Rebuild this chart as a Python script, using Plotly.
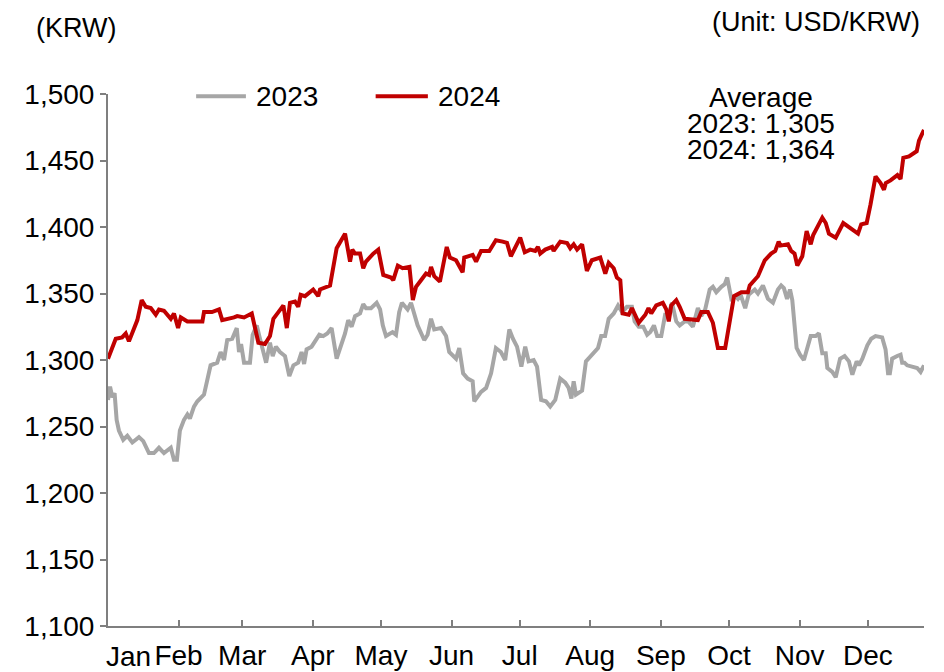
import plotly.graph_objects as go

# ---- data (day of year index, KRW per USD) ----
DAYS_2023 = [0, 0.9, 1.9, 2.9, 3.8, 4.8, 6.7, 8.5, 10.7, 13.6, 15.5, 18, 20.2, 22.4, 24.6, 27.6, 29, 30.3,
             31.6, 33.4, 34.9, 36, 37.8, 39.3, 42.2, 43.6, 45.1, 48, 49.5, 51, 52.4, 54.6, 56.6, 57.6, 58.5,
             59.8, 62.4, 63.6, 65.4, 66.5, 69.5, 71.2, 72.4, 73.8, 75.6, 77.8, 79.7, 81.5, 83.6, 85.1, 86.2,
             87.3, 89.5, 92.9, 94.6, 96.4, 98.3, 100.5, 102, 104.2, 105.6, 107.1, 108.6, 110.8, 112.2, 113.4,
             115.6, 118.1, 119.6, 120.8, 122.2, 125.1, 126.6, 128, 129.2, 131.7, 133.2, 134.6, 136.1, 139,
             140.5, 142, 143.4, 146.4, 148.6, 150, 153, 154.4, 156.1, 158.1, 160.3, 161, 162.5, 164, 166.2,
             168.4, 170.5, 172.7, 174.6, 176.4, 178, 179.8, 181.7, 183.4, 184.9, 187.1, 188.6, 190.4, 192.5,
             194.4, 196.6, 198.8, 201, 202.5, 203.7, 204.7, 205.7, 208.4, 210.1, 212, 213.5, 215.4, 216.8,
             218.5, 220.1, 222.3, 224.2, 226, 228.1, 230.3, 231.5, 233.3, 235.3, 237, 238.4, 240, 241.4,
             243.2, 244.9, 246.4, 247.9, 249.8, 251.3, 253.5, 255.1, 257.1, 259.3, 260.8, 262.5, 264.5,
             265.9, 267.4, 269.6, 271.1, 272.2, 274, 275.8, 276.9, 278.1, 280.1, 281.6, 282.8, 284.3, 285.7,
             287.9, 290.1, 292.3, 294.5, 295.9, 297.1, 298.5, 299.8, 300.8, 302.7, 304.2, 305.9, 307.4,
             308.9, 311.1, 312.5, 314, 315.5, 316.2, 318.4, 319.9, 321.8, 323.8, 325.7, 327.2, 329.1, 330.1,
             331.6, 333.8, 335.5, 337.4, 340.3, 341.8, 342.9, 343.7, 344.7, 346.9, 348.4, 349.1, 350.1,
             351.3, 354.3, 355.7, 357.2, 358.7]
KRW_2023 = [1270, 1280, 1272, 1275, 1255, 1247, 1240, 1243, 1238, 1242, 1239, 1230, 1230, 1234, 1230, 1234,
            1225, 1225, 1247, 1255, 1259, 1256, 1265, 1269, 1274, 1286, 1296, 1298, 1306, 1300, 1315, 1316,
            1324, 1306, 1312, 1298, 1298, 1319, 1326, 1318, 1298, 1313, 1303, 1310, 1306, 1303, 1288, 1296,
            1298, 1306, 1297, 1308, 1310, 1319, 1318, 1320, 1324, 1301, 1309, 1320, 1330, 1325, 1333, 1335,
            1342, 1339, 1339, 1343, 1338, 1326, 1318, 1321, 1319, 1336, 1343, 1338, 1343, 1335, 1326, 1315,
            1319, 1331, 1323, 1324, 1318, 1306, 1301, 1309, 1290, 1286, 1284, 1269, 1272, 1276, 1279, 1290,
            1309, 1306, 1300, 1323, 1316, 1310, 1295, 1310, 1299, 1300, 1295, 1270, 1269, 1265, 1270, 1286,
            1283, 1279, 1271, 1284, 1274, 1277, 1299, 1303, 1306, 1309, 1318, 1318, 1331, 1335, 1341, 1336,
            1340, 1340, 1329, 1325, 1325, 1319, 1321, 1326, 1318, 1318, 1334, 1334, 1343, 1329, 1326, 1329,
            1329, 1325, 1339, 1333, 1338, 1353, 1355, 1351, 1355, 1357, 1362, 1346, 1348, 1346, 1349, 1339,
            1349, 1351, 1353, 1350, 1356, 1346, 1343, 1353, 1356, 1354, 1346, 1353, 1345, 1309, 1304, 1300,
            1308, 1318, 1318, 1320, 1305, 1305, 1294, 1291, 1287, 1301, 1303, 1299, 1289, 1299, 1296, 1301,
            1311, 1316, 1318, 1317, 1308, 1290, 1290, 1301, 1303, 1304, 1298, 1298, 1296, 1295, 1294, 1291,
            1296]

DAYS_2024 = [0, 3.4, 6.2, 7.8, 9.2, 10.5, 12.9, 14.8, 16.6, 18.8, 21, 22.4, 24.6, 27.6, 29, 30.8, 32, 34.9,
             41.5, 42.2, 45.7, 48.8, 50.2, 55.4, 56.8, 59.8, 63.2, 66.1, 69, 71.2, 72.7, 74.9, 77.1, 78.6, 80,
             82.2, 83.6, 84.7, 86.6, 90.2, 92.4, 93.2, 97.6, 100.5, 104.2, 106.4, 107.4, 108.6, 110.8, 112.2,
             113.4, 116.6, 118.8, 121, 124.4, 125.4, 127.4, 129.5, 132.5, 134, 135.4, 137.6, 139.8, 141.2, 142,
             143.4, 145.9, 148.9, 150.3, 153, 155.9, 156.6, 160.3, 161.8, 164, 167.6, 170.5, 173.5, 175.4,
             177.1, 179.3, 181.2, 183.2, 185.6, 187.8, 189, 190, 192.2, 195.2, 195.9, 198.8, 201.8, 203.2,
             204.7, 206.2, 208.4, 210.5, 212.7, 216.4, 218.6, 220.1, 222.3, 223.7, 225.2, 226.2, 228.9, 230.3,
             231.8, 233.3, 236.2, 237.6, 238.8, 241, 243.9, 245.4, 246.5, 247.6, 249.8, 251.3, 253.5, 259.3,
             260.8, 263.7, 265.9, 268.1, 271.3, 272.5, 275.2, 278.4, 281.3, 282.1, 284.3, 285.7, 287.2, 288.7,
             291.5, 293.3, 294.8, 295.6, 298.9, 300.3, 301.8, 303, 305.2, 307.1, 308.9, 310, 314, 315.5,
             316.9, 319.9, 323.2, 326.5, 329.7, 331.1, 333.5, 335.2, 337.4, 339.6, 341.1, 341.9, 344, 347,
             348.4, 349.6, 352.1, 355.5, 356.5, 358.7]
KRW_2024 = [1301, 1316, 1317, 1320, 1314, 1320, 1330, 1345, 1340, 1339, 1334, 1338, 1337, 1331, 1335, 1324,
            1332, 1329, 1329, 1336, 1336, 1338, 1330, 1332, 1333, 1332, 1335, 1313, 1312, 1318, 1331, 1336,
            1341, 1324, 1343, 1344, 1340, 1349, 1348, 1353, 1348, 1353, 1356, 1384, 1395, 1374, 1383, 1380,
            1380, 1369, 1374, 1380, 1383, 1364, 1362, 1360, 1371, 1369, 1370, 1345, 1355, 1360, 1365, 1364,
            1370, 1363, 1359, 1385, 1377, 1375, 1366, 1377, 1379, 1374, 1382, 1382, 1390, 1389, 1388, 1378,
            1385, 1392, 1381, 1383, 1382, 1385, 1380, 1383, 1385, 1382, 1389, 1388, 1384, 1387, 1383, 1387,
            1367, 1375, 1377, 1365, 1373, 1369, 1362, 1360, 1335, 1334, 1339, 1334, 1328, 1334, 1339, 1335,
            1341, 1343, 1338, 1329, 1341, 1345, 1340, 1331, 1330, 1336, 1336, 1328, 1309, 1309, 1320, 1348,
            1351, 1351, 1356, 1360, 1363, 1369, 1375, 1380, 1382, 1389, 1386, 1387, 1382, 1380, 1371, 1378,
            1397, 1387, 1394, 1407, 1403, 1395, 1392, 1403, 1399, 1395, 1402, 1403, 1417, 1438, 1433, 1428,
            1433, 1435, 1439, 1436, 1452, 1453, 1457, 1465, 1473]

MONTHS = ["Jan", "Feb", "Mar", "Apr", "May", "Jun", "Jul", "Aug", "Sep", "Oct", "Nov", "Dec"]
MONTH_START = [0, 31, 59, 90, 120, 151, 181, 212, 243, 273, 304, 334]
Y_TICKS = [1100, 1150, 1200, 1250, 1300, 1350, 1400, 1450, 1500]
AVG_2023 = 1305
AVG_2024 = 1364

GREY = "#A6A6A6"
RED = "#C00000"
FONT = "Liberation Sans, Arial, sans-serif"
FS = 27
FS_NUM = 28
LW = 4

fig = go.Figure()
fig.add_trace(go.Scatter(x=DAYS_2023, y=KRW_2023, mode="lines", name="2023",
                         line=dict(color=GREY, width=LW), showlegend=False))
fig.add_trace(go.Scatter(x=DAYS_2024, y=KRW_2024, mode="lines", name="2024",
                         line=dict(color=RED, width=LW), showlegend=False))

def txt(text, x, y, xanchor="center", xref="paper", size=FS):
    return dict(text=text, xref=xref, yref="paper", x=x, y=y, xanchor=xanchor, yanchor="middle",
                showarrow=False, font=dict(size=size, color="black", family=FONT))

annotations = [
    txt("(KRW)", -0.038, 1.124),
    txt("(Unit: USD/KRW)", 0.9975, 1.135, xanchor="right"),
    txt("Average", 0.80, 0.994, size=FS_NUM),
    txt(f"2023: {AVG_2023:,}", 0.80, 0.944, size=FS_NUM),
    txt(f"2024: {AVG_2024:,}", 0.80, 0.895, size=FS_NUM),
    txt("2023", 0.179, 0.996, xanchor="left", size=FS_NUM),
    txt("2024", 0.402, 0.996, xanchor="left", size=FS_NUM),
    txt(MONTHS[0], MONTH_START[0] + 8.8, -0.058, xref="x", size=FS_NUM),
]

shapes = [
    dict(type="line", xref="paper", yref="paper", x0=0.108, x1=0.169, y0=0.996, y1=0.996,
         line=dict(color=GREY, width=LW)),
    dict(type="line", xref="paper", yref="paper", x0=0.328, x1=0.392, y0=0.996, y1=0.996,
         line=dict(color=RED, width=LW)),
]

# page body has an 8px default margin, so the figure is sized 936x664
fig.update_layout(
    width=936, height=664,
    margin=dict(l=100, r=20, t=86, b=46, autoexpand=False),
    paper_bgcolor="white", plot_bgcolor="white",
    font=dict(family=FONT, size=FS, color="black"),
    annotations=annotations, shapes=shapes,
    showlegend=False,
)
fig.update_xaxes(range=[0, 358.7], tickmode="array", tickvals=MONTH_START,
                 ticktext=[""] + MONTHS[1:], ticks="inside", ticklen=6, tickwidth=1.5,
                 tickcolor="#7F7F7F", showline=True, linecolor="#7F7F7F", linewidth=2,
                 ticklabelstandoff=3, automargin=False,
                 showgrid=False, zeroline=False, tickfont=dict(size=FS_NUM, family=FONT, color="black"))
fig.update_yaxes(range=[1100, 1500], tickmode="array", tickvals=Y_TICKS,
                 ticktext=[f"{v:,}" for v in Y_TICKS], ticks="outside", ticklen=6, tickwidth=1.5,
                 tickcolor="#7F7F7F", showline=True, linecolor="#7F7F7F", linewidth=2,
                 automargin=False,
                 showgrid=False, zeroline=False, tickfont=dict(size=FS_NUM, family=FONT, color="black"))

fig.write_html("out.html")
